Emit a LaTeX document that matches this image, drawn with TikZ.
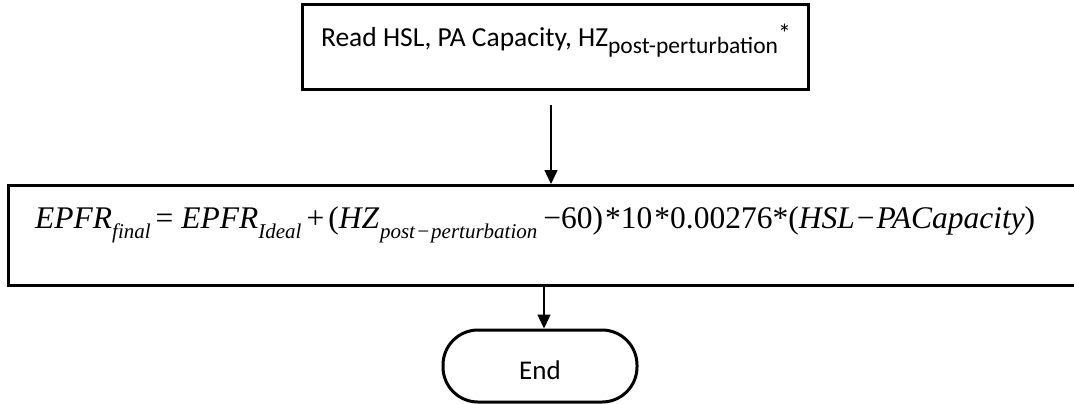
\documentclass[tikz,border=0pt]{standalone}
\usepackage{fontspec}
\setmainfont{Liberation Serif}
\newfontfamily\calibri{Carlito}
\usetikzlibrary{arrows.meta}
\newcommand\eqsub[1]{\raisebox{-10pt}{\fontsize{21}{21}\selectfont\itshape #1}}
\tikzset{
  x=1pt, y=-1pt,
  boxthick/.style={draw, line width=3pt},
  flow/.style={line width=1.4pt, -{Triangle[length=14pt,width=13pt]}},
  lbl/.style={font=\calibri\fontsize{27.5}{32}\selectfont, inner sep=0pt},
}
\begin{document}
\begin{tikzpicture}
\useasboundingbox (0,0) rectangle (1074,404);
% top box
\node[boxthick, minimum width=506pt, minimum height=85pt, inner sep=0pt] (read) at (555,47.5) {};
\node[lbl, anchor=base] (readtxt) at (556,47) {Read HSL, PA Capacity, HZ\raisebox{-7pt}{\fontsize{23.5}{24}\selectfont post-perturbation}\raisebox{4pt}{\fontsize{26}{26}\selectfont *}};
% formula box
\node[boxthick, minimum width=1080pt, minimum height=100pt, inner sep=0pt, anchor=north west] (eq) at (7,184) {};
\node[anchor=base west, inner sep=0pt, font=\fontsize{31.5}{36}\selectfont] (eqtxt) at (35,228)
 {\itshape EPFR\eqsub{final}\upshape\kern5pt=\kern8pt\itshape EPFR\eqsub{Ideal}\upshape\kern5pt+\kern4pt(\itshape HZ\eqsub{\kern1pt post\kern1pt−\kern1pt perturbation}\upshape\kern6pt−60)\kern2pt*10\kern2pt*0.00276*(\itshape HSL\upshape\kern2pt−\kern2pt\itshape PACapacity\upshape)};
% end terminator
\node[draw, line width=3pt, rounded corners=35pt, minimum width=194pt, minimum height=72pt, inner sep=0pt] (end) at (540,366) {};
\node[lbl, anchor=base, font=\calibri\fontsize{27}{30}\selectfont] (endtxt) at (540,379) {End};
% connectors
\coordinate (a1) at (551,105);
\coordinate (a2) at (544,287);
\draw[flow] (a1) -- (a1 |- eq.north);
\draw[flow] (a2) -- (a2 |- end.north);
\end{tikzpicture}
\end{document}
